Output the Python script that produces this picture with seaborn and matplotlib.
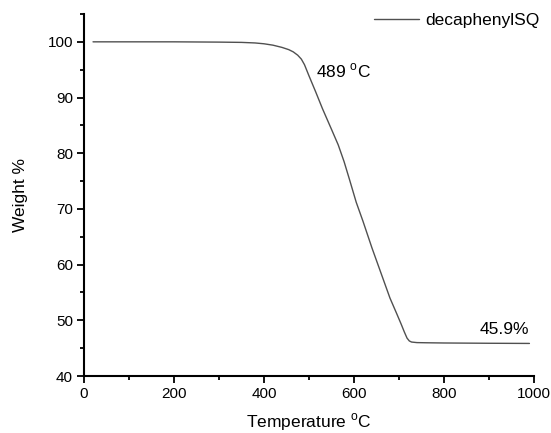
import matplotlib
matplotlib.use("Agg")
import matplotlib.pyplot as plt
import seaborn as sns
import pandas as pd
from matplotlib.ticker import MultipleLocator

temperature = [20, 100, 200, 300, 350, 380, 400, 420, 440, 455, 465, 475, 483, 490, 500,
               515, 530, 550, 565, 578, 590, 605, 620, 640, 660, 680, 695, 705, 712, 718,
               723, 728, 740, 760, 800, 900, 990]
weight = [100, 100, 100, 99.95, 99.9, 99.8, 99.65, 99.4, 99.0, 98.6, 98.2, 97.6, 96.9, 95.9, 93.9,
          91.0, 88.0, 84.3, 81.5, 78.5, 75.3, 71.2, 67.8, 63.0, 58.5, 54.0, 51.2, 49.3, 47.9, 46.8,
          46.3, 46.1, 46.0, 45.97, 45.93, 45.88, 45.85]
series_name = "decaphenylSQ"
annot_onset = "489 $^{\\rm o}$C"
annot_residue = "45.9%"

df = pd.DataFrame({"Temperature": temperature, "Weight": weight, "Sample": series_name})

sns.set_style("ticks")
plt.rcParams['font.family'] = ['Liberation Sans', 'DejaVu Sans']
plt.rcParams['mathtext.fontset'] = 'custom'
plt.rcParams['mathtext.rm'] = 'Liberation Sans'
plt.rcParams['text.color'] = 'black'
plt.rcParams['axes.labelcolor'] = 'black'
plt.rcParams['xtick.color'] = 'black'
plt.rcParams['ytick.color'] = 'black'

fig = plt.figure(figsize=(5.51, 4.33), dpi=100)
ax = fig.add_axes([0.1525, 0.1316, 0.8165, 0.8361])

sns.lineplot(data=df, x="Temperature", y="Weight", hue="Sample", palette=["#505050"],
             linewidth=1.0, ax=ax)

ax.set_xlim(0, 1000)
ax.set_ylim(40, 105)
ax.xaxis.set_major_locator(MultipleLocator(200))
ax.xaxis.set_minor_locator(MultipleLocator(100))
ax.yaxis.set_major_locator(MultipleLocator(10))
ax.yaxis.set_minor_locator(MultipleLocator(5))
ax.tick_params(which='major', length=5, width=1.3, labelsize=11, color='black', pad=3)
ax.tick_params(which='minor', length=3, width=1.3, color='black')
for s in ['top', 'right']:
    ax.spines[s].set_visible(False)
for s in ['left', 'bottom']:
    ax.spines[s].set_linewidth(1.5)
    ax.spines[s].set_color('black')

ax.set_xlabel("Temperature $^{\\rm o}$C", fontsize=12.5, labelpad=7)
ax.set_ylabel("Weight %", fontsize=12.5, labelpad=14)

leg = ax.legend(loc='upper right', frameon=False, fontsize=12.5, handlelength=2.6,
                handletextpad=0.35, bbox_to_anchor=(1.047, 1.045), title=None)

ax.text(516, 94.8, annot_onset, fontsize=12.5, va='center', ha='left')
ax.text(990, 48.3, annot_residue, fontsize=12.5, va='center', ha='right')

fig.savefig("out.png", dpi=100)
